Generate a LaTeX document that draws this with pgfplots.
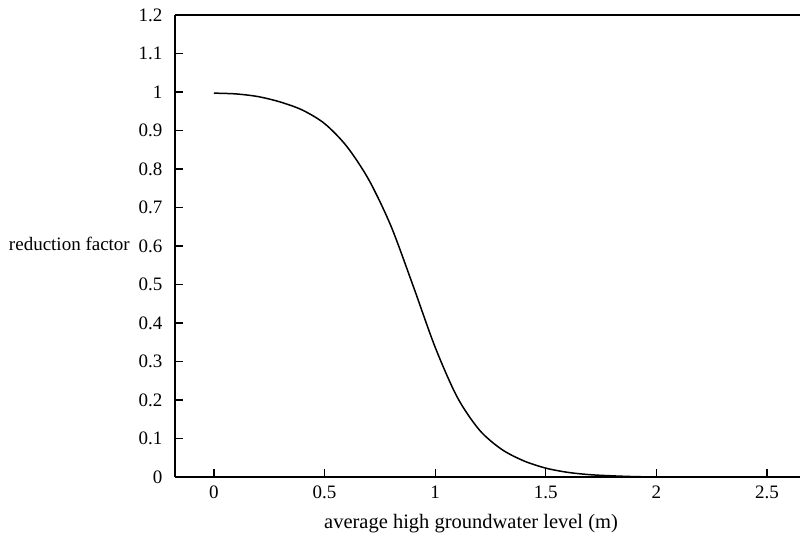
\documentclass[border=0pt]{standalone}
\usepackage{fontspec}
\setmainfont{Liberation Serif}
\usepackage{pgfplots}
\pgfplotsset{compat=1.18}

\begin{document}
\fontsize{19}{22}\selectfont
\begin{tikzpicture}[x=1pt,y=1pt]
\useasboundingbox (0,0) rectangle (800,535);
\begin{axis}[
    at={(175pt,58pt)}, anchor=south west,
    scale only axis,
    width=625pt, height=462pt,
    xmin=-0.176, xmax=2.649,
    ymin=0, ymax=1.2,
    axis x line*=bottom,
    axis y line*=left,
    axis line style={line width=1.4pt},
    xtick={0,0.5,1,1.5,2,2.5},
    ytick={0,0.1,0.2,0.3,0.4,0.5,0.6,0.7,0.8,0.9,1,1.1,1.2},
    tick align=inside,
    major tick length=8pt,
    tick style={line width=1.2pt, black},
    xticklabel style={yshift=-2pt},
    yticklabel style={xshift=-6pt},
    /pgf/number format/assume math mode=true,
    xlabel={average high groundwater level (m)},
    xlabel style={at={(rel axis cs:0.4736,0)}, anchor=north, inner sep=0pt, yshift=-37pt, font=\fontsize{20.5}{23}\selectfont},
    ylabel={reduction factor},
    ylabel style={at={(rel axis cs:0,0.5)}, rotate=-90, anchor=mid east, inner sep=0pt, xshift=-45pt},
]
\addplot[black, line width=1.5pt, smooth] coordinates {
    (0,0.997) (0.1,0.995) (0.2,0.988) (0.3,0.974) (0.4,0.953)
    (0.5,0.918) (0.6,0.859) (0.7,0.772) (0.8,0.652) (0.9,0.497)
    (1.0,0.337) (1.1,0.207) (1.2,0.122) (1.3,0.072) (1.4,0.042)
    (1.5,0.023) (1.6,0.012) (1.7,0.006) (1.8,0.003) (1.9,0.001) (2.0,0.0)
};
\draw[line width=1.4pt] (rel axis cs:0,1) -- (rel axis cs:1,1);
\end{axis}
\end{tikzpicture}
\end{document}
